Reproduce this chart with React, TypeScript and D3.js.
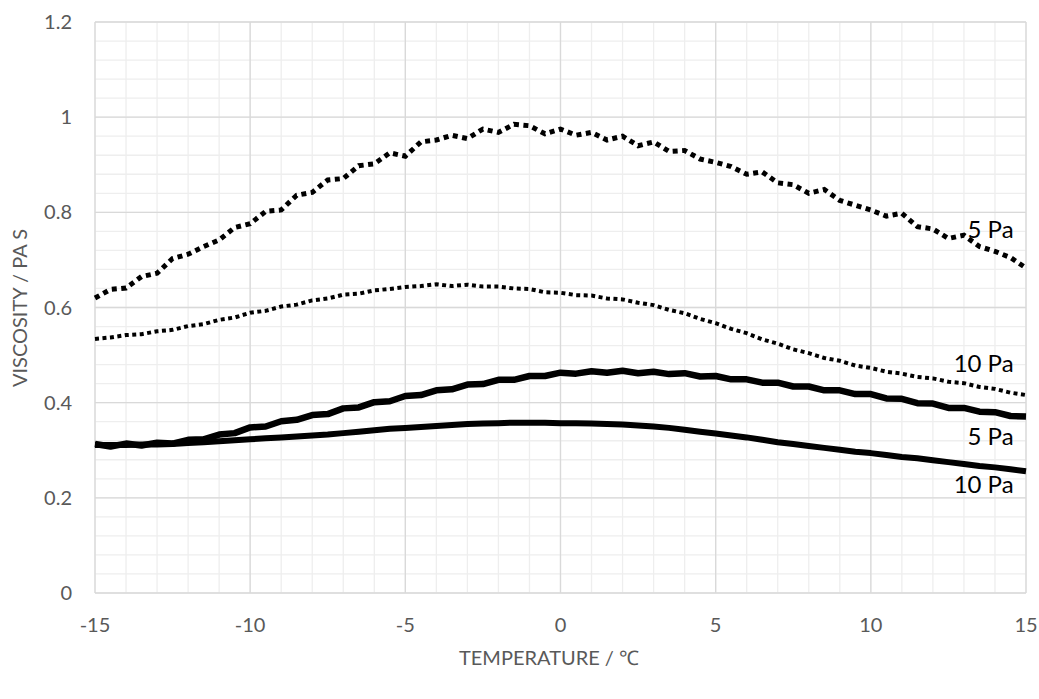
import React from "react";
import * as d3 from "d3";

const temps: number[] = [
  -15, -14.5, -14, -13.5, -13, -12.5, -12, -11.5, -11, -10.5, -10, -9.5, -9, -8.5, -8, -7.5, -7, -6.5, -6, -5.5,
  -5, -4.5, -4, -3.5, -3, -2.5, -2, -1.5, -1, -0.5, 0, 0.5, 1, 1.5, 2, 2.5, 3, 3.5, 4, 4.5,
  5, 5.5, 6, 6.5, 7, 7.5, 8, 8.5, 9, 9.5, 10, 10.5, 11, 11.5, 12, 12.5, 13, 13.5, 14, 14.5, 15,
];

// 5 Pa, dotted (upper)
const dotted5Pa: number[] = [
  0.620, 0.638, 0.641, 0.665, 0.672, 0.703, 0.712, 0.728, 0.742, 0.768, 0.776, 0.802, 0.805, 0.836, 0.842, 0.868, 0.871, 0.898, 0.902, 0.925,
  0.918, 0.948, 0.952, 0.962, 0.955, 0.975, 0.968, 0.985, 0.982, 0.965, 0.975, 0.962, 0.968, 0.952, 0.960, 0.940, 0.948, 0.928, 0.930, 0.912,
  0.905, 0.896, 0.880, 0.885, 0.862, 0.858, 0.840, 0.848, 0.825, 0.815, 0.805, 0.792, 0.798, 0.770, 0.765, 0.745, 0.752, 0.728, 0.718, 0.705, 0.683,
];

// 10 Pa, dotted
const dotted10Pa: number[] = [
  0.534, 0.537, 0.542, 0.544, 0.550, 0.553, 0.561, 0.565, 0.574, 0.579, 0.589, 0.593, 0.602, 0.606, 0.615, 0.619, 0.627, 0.629, 0.636, 0.639,
  0.643, 0.645, 0.649, 0.645, 0.648, 0.644, 0.644, 0.640, 0.639, 0.632, 0.631, 0.626, 0.625, 0.619, 0.617, 0.610, 0.605, 0.595, 0.588, 0.576,
  0.567, 0.555, 0.546, 0.533, 0.524, 0.512, 0.504, 0.494, 0.488, 0.478, 0.473, 0.465, 0.461, 0.454, 0.451, 0.444, 0.441, 0.433, 0.429, 0.421, 0.416,
];

// 5 Pa, solid
const solid5Pa: number[] = [
  0.313, 0.308, 0.314, 0.310, 0.316, 0.314, 0.322, 0.323, 0.333, 0.336, 0.348, 0.350, 0.361, 0.364, 0.374, 0.376, 0.388, 0.390, 0.401, 0.403,
  0.414, 0.416, 0.426, 0.428, 0.438, 0.439, 0.448, 0.448, 0.456, 0.456, 0.463, 0.461, 0.466, 0.463, 0.467, 0.462, 0.465, 0.460, 0.462, 0.455,
  0.456, 0.449, 0.449, 0.442, 0.442, 0.434, 0.434, 0.426, 0.426, 0.418, 0.418, 0.409, 0.408, 0.399, 0.398, 0.389, 0.389, 0.381, 0.380, 0.372, 0.371,
];

// 10 Pa, solid
const solid10Pa: number[] = [
  0.311, 0.311, 0.311, 0.312, 0.312, 0.313, 0.315, 0.317, 0.319, 0.321, 0.323, 0.325, 0.327, 0.329, 0.331, 0.333, 0.336, 0.339, 0.342, 0.345,
  0.347, 0.349, 0.351, 0.353, 0.355, 0.356, 0.357, 0.358, 0.358, 0.358, 0.357, 0.357, 0.356, 0.355, 0.354, 0.352, 0.350, 0.347, 0.343, 0.339,
  0.335, 0.331, 0.327, 0.322, 0.317, 0.313, 0.309, 0.305, 0.301, 0.297, 0.294, 0.290, 0.286, 0.283, 0.279, 0.275, 0.271, 0.267, 0.264, 0.260, 0.256,
];

const xTicks: number[] = [-15, -10, -5, 0, 5, 10, 15];
const yTicks: number[] = [0, 0.2, 0.4, 0.6, 0.8, 1, 1.2];

const seriesLabels = [
  { text: "5 Pa", t: 14.6, v: 0.746 },
  { text: "10 Pa", t: 14.6, v: 0.464 },
  { text: "5 Pa", t: 14.6, v: 0.311 },
  { text: "10 Pa", t: 14.6, v: 0.21 },
];

const W = 1039;
const H = 699;
const M = { left: 95, right: 1026, top: 22, bottom: 593 };

export default function App() {
  const x = d3.scaleLinear().domain([-15, 15]).range([M.left, M.right]);
  const y = d3.scaleLinear().domain([0, 1.2]).range([M.bottom, M.top]);

  const minorX = d3.range(-15, 15.001, 1);
  const minorY = d3.range(0, 1.2001, 0.04);

  const line = d3
    .line<number>()
    .x((_, i) => x(temps[i]))
    .y((d) => y(d));

  const font = "Lato, 'Open Sans', sans-serif";

  return (
    <svg width={W} height={H} style={{ position: "absolute", left: 0, top: 0, background: "#fff" }}>
      <rect x={0} y={0} width={W} height={H} fill="#fff" />
      {minorX.map((t) => (
        <line key={"mx" + t} x1={x(t)} x2={x(t)} y1={M.top} y2={M.bottom} stroke="#eeeeee" strokeWidth={1.3} />
      ))}
      {minorY.map((v) => (
        <line key={"my" + v} x1={M.left} x2={M.right} y1={y(v)} y2={y(v)} stroke="#eeeeee" strokeWidth={1.3} />
      ))}
      {xTicks.map((t) => (
        <line key={"gx" + t} x1={x(t)} x2={x(t)} y1={M.top} y2={M.bottom} stroke="#d9d9d9" strokeWidth={1.3} />
      ))}
      {yTicks.map((v) => (
        <line key={"gy" + v} x1={M.left} x2={M.right} y1={y(v)} y2={y(v)} stroke="#d9d9d9" strokeWidth={1.3} />
      ))}

      <path d={line(solid10Pa) || ""} fill="none" stroke="#000" strokeWidth={6} strokeLinejoin="round" />
      <path d={line(solid5Pa) || ""} fill="none" stroke="#000" strokeWidth={6.5} strokeLinejoin="round" />
      <path d={line(dotted10Pa) || ""} fill="none" stroke="#000" strokeWidth={4} strokeDasharray="4 3.5" />
      <path d={line(dotted5Pa) || ""} fill="none" stroke="#000" strokeWidth={5} strokeDasharray="5 4.5" />

      {yTicks.map((v) => (
        <text key={"ty" + v} x={72} y={y(v)} dy="0.35em" textAnchor="end" fontFamily={font} fontSize={20} fill="#595959">
          {String(v)}
        </text>
      ))}
      {xTicks.map((t) => (
        <text key={"tx" + t} x={x(t)} y={625} dy="0.35em" textAnchor="middle" fontFamily={font} fontSize={20} fill="#595959">
          {String(t)}
        </text>
      ))}

      {seriesLabels.map((l, i) => (
        <text key={"sl" + i} x={x(l.t)} y={y(l.v)} textAnchor="end" fontFamily={font} fontSize={24} fill="#000">
          {l.text}
        </text>
      ))}

      <text x={549} y={658} dy="0.35em" textAnchor="middle" fontFamily={font} fontSize={20} fill="#595959">
        TEMPERATURE / ℃
      </text>
      <text
        transform={`translate(20,${308}) rotate(-90)`}
        dy="0.35em"
        textAnchor="middle"
        fontFamily={font}
        fontSize={20}
        fill="#595959"
      >
        VISCOSITY / PA S
      </text>
    </svg>
  );
}
